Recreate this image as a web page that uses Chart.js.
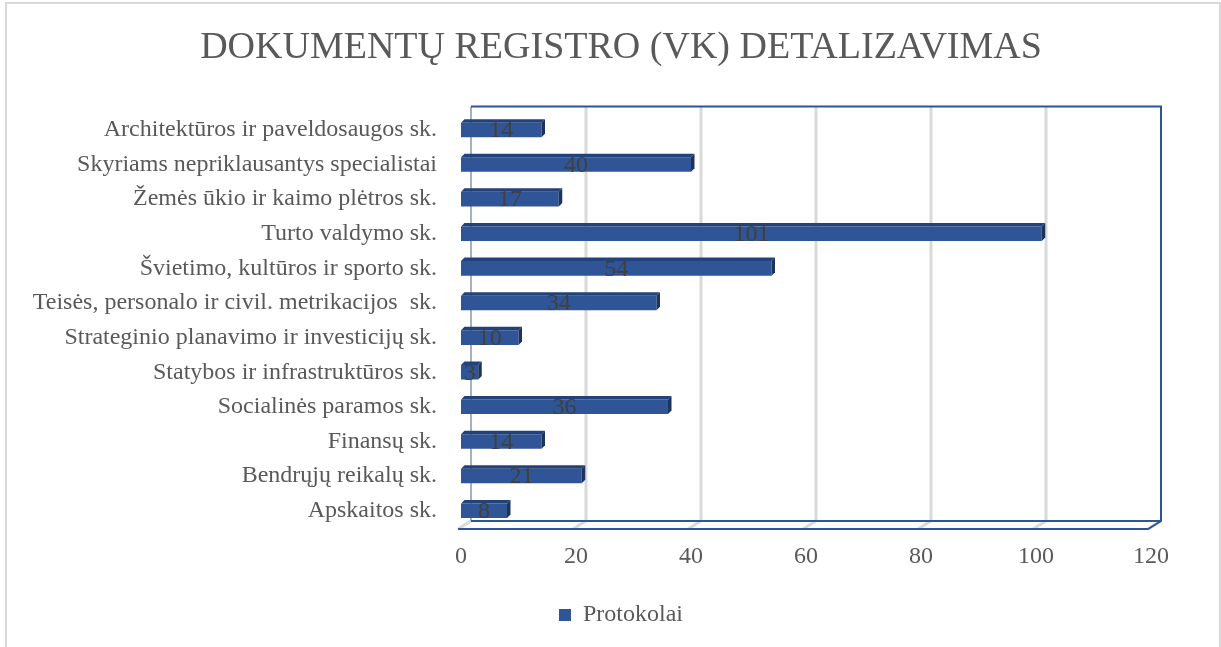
<!DOCTYPE html>
<html>
<head>
  <title>Dokumentų registro (VK) detalizavimas</title>
  <style>
    html, body { margin: 0; padding: 0; background: #fff; }
    #wrap { position: relative; width: 1221px; height: 647px; overflow: hidden; }
    #frame {
      position: absolute; left: 5px; top: 2px; width: 1212px; height: 700px;
      border: 2px solid #d9d9d9; pointer-events: none;
    }
  </style>
</head>
<body>
  <div id="wrap">
    <canvas id="chart" width="1221" height="647"></canvas>
    <div id="frame"></div>
  </div>

  <script src="https://cdn.jsdelivr.net/npm/chart.js@4/dist/chart.umd.min.js"></script>
  <script>
    // categories, top to bottom as in the picture
    var categories = [
      'Architektūros ir paveldosaugos sk.',
      'Skyriams nepriklausantys specialistai',
      'Žemės ūkio ir kaimo plėtros sk.',
      'Turto valdymo sk.',
      'Švietimo, kultūros ir sporto sk.',
      'Teisės, personalo ir civil. metrikacijos  sk.',
      'Strateginio planavimo ir investicijų sk.',
      'Statybos ir infrastruktūros sk.',
      'Socialinės paramos sk.',
      'Finansų sk.',
      'Bendrųjų reikalų sk.',
      'Apskaitos sk.'
    ];
    var protokolai = [14, 40, 17, 101, 54, 34, 10, 3, 36, 14, 21, 8];
    var xTicks = [0, 20, 40, 60, 80, 100, 120];

    var FONT = '"Liberation Serif", "Times New Roman", serif';
    var GRAY = '#595959';
    var BLUE = '#2F5597';

    // y labels are long: let their clip box reach the left edge
    var widenY = {
      id: 'widenY',
      afterLayout: function(chart) { chart.scales.y.left = 0; }
    };

    // back wall, gridlines and floor in a fake 3D look
    var frame3d = {
      id: 'frame3d',
      beforeDatasetsDraw: function(chart) {
        var ctx = chart.ctx, x = chart.scales.x, a = chart.chartArea;
        var top = a.top - 6, backY = a.bottom - 7, frontY = a.bottom + 1;
        var bx = function(v) { return x.getPixelForValue(v) + 10; };
        var fx = function(v) { return x.getPixelForValue(v) - 3; };
        ctx.save();
        // grid lines
        ctx.strokeStyle = '#d9d9d9';
        ctx.lineWidth = 3;
        xTicks.forEach(function(v, i) {
          ctx.beginPath();
          if (i > 0 && i < xTicks.length - 1) {
            ctx.moveTo(bx(v), top);
            ctx.lineTo(bx(v), backY);
          } else {
            ctx.moveTo(bx(v), backY);
          }
          ctx.lineTo(fx(v), frontY);
          ctx.stroke();
        });
        // left wall edge
        ctx.strokeStyle = '#8497b0';
        ctx.lineWidth = 1.5;
        ctx.beginPath();
        ctx.moveTo(bx(0), top);
        ctx.lineTo(bx(0), backY);
        ctx.stroke();
        // blue outline: top, right, floor
        ctx.strokeStyle = BLUE;
        ctx.lineWidth = 2;
        ctx.beginPath();
        ctx.moveTo(bx(0), top);
        ctx.lineTo(bx(120), top);
        ctx.lineTo(bx(120), backY);
        ctx.lineTo(fx(120), frontY);
        ctx.lineTo(fx(0), frontY);
        ctx.moveTo(bx(0), backY);
        ctx.lineTo(bx(120), backY);
        ctx.stroke();
        ctx.restore();
      },
      afterDatasetsDraw: function(chart) {
        var ctx = chart.ctx, d = 3.5;
        var meta = chart.getDatasetMeta(0);
        ctx.save();
        meta.data.forEach(function(bar, i) {
          var p = bar.getProps(['x', 'y', 'base', 'height'], true);
          var t = p.y - p.height / 2, b = p.y + p.height / 2;
          ctx.fillStyle = '#24427a';
          ctx.beginPath();
          ctx.moveTo(p.base, t);
          ctx.lineTo(p.base + d, t - d);
          ctx.lineTo(p.x + d, t - d);
          ctx.lineTo(p.x, t);
          ctx.closePath();
          ctx.fill();
          ctx.fillStyle = '#1c335e';
          ctx.beginPath();
          ctx.moveTo(p.x, t);
          ctx.lineTo(p.x + d, t - d);
          ctx.lineTo(p.x + d, b - d);
          ctx.lineTo(p.x, b);
          ctx.closePath();
          ctx.fill();
          // value label
          ctx.fillStyle = '#404040';
          ctx.font = '24px ' + FONT;
          ctx.textAlign = 'center';
          ctx.textBaseline = 'middle';
          ctx.fillText(String(protokolai[i]), (p.base + p.x) / 2, p.y + 1);
        });
        ctx.restore();
      }
    };

    new Chart(document.getElementById('chart'), {
      type: 'bar',
      data: {
        labels: categories,
        datasets: [{
          label: 'Protokolai',
          data: protokolai,
          backgroundColor: BLUE,
          borderWidth: 0,
          barPercentage: 0.42,
          categoryPercentage: 1
        }]
      },
      options: {
        indexAxis: 'y',
        responsive: false,
        animation: false,
        layout: { padding: { left: 91, right: 70, top: 0, bottom: 10 } },
        plugins: {
          title: {
            display: true,
            text: 'DOKUMENTŲ REGISTRO (VK) DETALIZAVIMAS',
            color: GRAY,
            font: { family: FONT, size: 38, weight: 'normal', lineHeight: 1.2 },
            padding: { top: 25, bottom: 42 }
          },
          legend: {
            position: 'bottom',
            labels: {
              color: GRAY,
              font: { family: FONT, size: 24 },
              boxWidth: 12,
              boxHeight: 12,
              padding: 10
            }
          },
          tooltip: { enabled: false }
        },
        scales: {
          x: {
            min: 0,
            max: 120,
            grid: { display: false, drawTicks: false },
            border: { display: false },
            ticks: {
              stepSize: 20,
              color: GRAY,
              padding: 14,
              font: { family: FONT, size: 24 }
            },
            afterFit: function(s) { s.height = 65; }
          },
          y: {
            grid: { display: false, drawTicks: false },
            border: { display: false },
            ticks: {
              color: GRAY,
              padding: 24,
              font: { family: FONT, size: 24 }
            },
            afterFit: function(s) { s.width = 370; }
          }
        }
      },
      plugins: [widenY, frame3d]
    });
  </script>
</body>
</html>
